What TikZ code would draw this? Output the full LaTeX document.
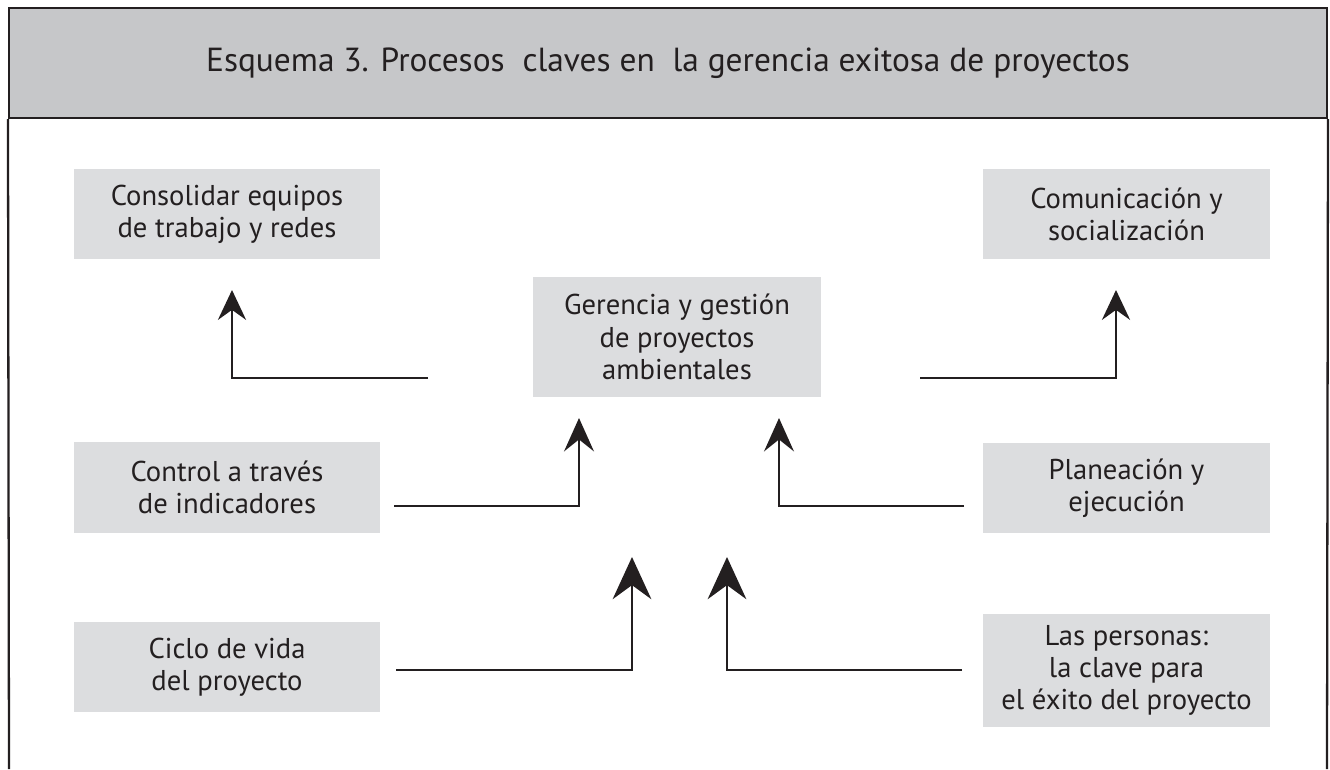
\documentclass[tikz,border=0pt]{standalone}
\usepackage{fontspec}
\setmainfont{PT Sans}
\usetikzlibrary{arrows.meta}

\definecolor{headgray}{HTML}{C6C7C9}
\definecolor{boxgray}{HTML}{DCDDDF}
\definecolor{inkblack}{HTML}{231F20}

\begin{document}
\begin{tikzpicture}[x=0.02cm,y=-0.02cm,
	head/.style={draw=inkblack,line width=1.3pt,fill=headgray,text=inkblack,
		minimum width=26.36cm,minimum height=2.2cm,font=\fontsize{19}{23}\selectfont},
	proc/.style={fill=boxgray,text=inkblack,align=center,inner sep=0pt,
		font=\fontsize{16.3}{18.3}\selectfont},
	flow/.style={draw=inkblack,line width=1.3pt},
	tipsm/.style={-{Stealth[length=17pt,width=16pt,inset=5.7pt]}},
	tipmd/.style={-{Stealth[length=19pt,width=17pt,inset=6.8pt]}},
	tiplg/.style={-{Stealth[length=24pt,width=22pt,inset=8pt]}}]
	\useasboundingbox (0,0) rectangle (1330,769);

	\node[head] (title) at (668,63) {Esquema 3. Procesos~ claves en~ la gerencia exitosa de proyectos};
	\draw[flow] (title.south west) -- (9,769);
	\draw[flow] (title.south east) -- (1327,769);

	\node[proc,minimum width=6.12cm,minimum height=1.8cm] (consol) at (227,214) {Consolidar equipos\\de trabajo y redes};
	\node[proc,minimum width=5.74cm,minimum height=1.8cm] (comun) at (1126.5,214) {Comunicación y\\socialización};
	\node[proc,minimum width=5.76cm,minimum height=2.4cm] (geren) at (677,337) {Gerencia y gestión\\de proyectos\\ambientales};
	\node[proc,minimum width=6.12cm,minimum height=1.82cm] (contr) at (227,487.5) {Control a través\\de indicadores};
	\node[proc,minimum width=5.74cm,minimum height=1.8cm] (plan) at (1126.5,488) {Planeación y\\ejecución};
	\node[proc,minimum width=6.12cm,minimum height=1.8cm] (ciclo) at (227,667) {Ciclo de vida\\del proyecto};
	\node[proc,minimum width=5.74cm,minimum height=2.26cm] (perso) at (1126.5,670.5) {Las personas:\\la clave para\\el éxito del proyecto};

	\coordinate (consol-in) at (428,378);
	\coordinate (consol-tip) at (232,290);
	\coordinate (comun-in) at (920,378);
	\coordinate (comun-tip) at (1116,290);
	\coordinate (contr-out) at (394,506);
	\coordinate (contr-tip) at (579,418);
	\coordinate (plan-out) at (964,506);
	\coordinate (plan-tip) at (779,418);
	\coordinate (ciclo-out) at (396,670);
	\coordinate (ciclo-tip) at (632,557);
	\coordinate (perso-out) at (962,670);
	\coordinate (perso-tip) at (727,557);

	\draw[flow,tipsm] (consol-in) -| (consol-tip);
	\draw[flow,tipsm] (comun-in) -| (comun-tip);
	\draw[flow,tipmd] (contr-out) -| (contr-tip);
	\draw[flow,tipmd] (plan-out) -| (plan-tip);
	\draw[flow,tiplg] (ciclo-out) -| (ciclo-tip);
	\draw[flow,tiplg] (perso-out) -| (perso-tip);
\end{tikzpicture}
\end{document}
